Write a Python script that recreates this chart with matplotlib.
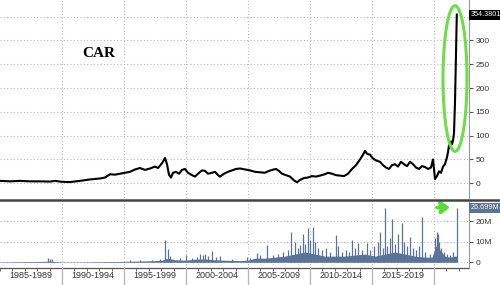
import matplotlib
matplotlib.use("Agg")
import matplotlib.pyplot as plt
from matplotlib.patches import Ellipse
from matplotlib.lines import Line2D

# ---- data (x in decimal years) ----
PX = 12.4  # pixels per year, only used to convert my readings
price_px = [0, 10, 20, 30, 40, 50, 55, 62, 70, 80, 90, 100, 105, 110, 115, 120, 125, 130, 135, 140,
            145, 150, 155, 158, 162, 165, 167, 169, 171, 173, 176, 179, 182, 185, 188, 192, 195, 198,
            202, 205, 208, 212, 215, 218, 220, 224, 228, 232, 236, 240, 245, 250, 255, 260, 265, 268,
            272, 276, 279, 282, 286, 290, 294, 297, 300, 304, 308, 312, 316, 320, 325, 328, 332, 336,
            340, 344, 348, 352, 356, 360, 363, 365, 367, 370, 373, 376, 380, 383, 386, 389, 392, 395,
            398, 401, 404, 407, 410, 413, 416, 419, 422, 425, 428, 431, 433, 434, 435, 437, 439, 441,
            443, 445, 447, 448, 449, 450, 451, 452, 453, 454, 455, 456.8]
price = [5, 4, 5, 4, 4, 3.5, 5, 3, 2.5, 5, 8, 10, 12, 19, 18, 20, 22, 24, 29, 32,
         28, 31, 35, 32, 42, 53, 40, 18, 12, 22, 24, 20, 28, 30, 22, 17, 14, 20,
         27, 26, 20, 22, 24, 17, 14, 20, 24, 27, 30, 31, 29, 27, 24, 23, 22, 25,
         28, 30, 26, 20, 17, 14, 6, 2, 7, 11, 12, 15, 14, 16, 19, 22, 20, 17,
         16, 15, 20, 30, 38, 50, 60, 68, 62, 60, 52, 48, 45, 38, 33, 30, 38, 40,
         35, 45, 40, 36, 45, 40, 33, 30, 36, 34, 30, 33, 50, 30, 9, 15, 25, 22,
         35, 40, 55, 65, 80, 75, 88, 82, 90, 105, 170, 354.38]
price_years = [1985 + p / PX for p in price_px]

vol_base_px = [0, 20, 40, 48, 55, 62, 80, 100, 120, 140, 155, 162, 168, 175, 185, 195, 205, 215, 225,
               240, 248, 255, 265, 275, 285, 295, 305, 315, 325, 335, 345, 355, 365, 375, 385, 395,
               405, 415, 425, 432, 436, 440, 445, 450, 455, 456.8]
vol_base = [0.2, 0.3, 0.4, 0.5, 0.4, 0.2, 0.2, 0.3, 0.4, 0.6, 0.8, 1.0, 2.0, 1.2, 1.0, 1.5, 1.6, 1.2, 1.0,
            0.8, 1.0, 2.0, 2.0, 2.5, 3.0, 4.0, 5.0, 4.0, 3.0, 3.0, 3.0, 3.5, 4.0, 3.0, 4.0, 5.0,
            4.0, 3.0, 2.5, 2.5, 8.0, 6.0, 3.0, 2.5, 3.0, 3.0]
vol_base_years = [1985 + p / PX for p in vol_base_px]

spike_px = [48, 50, 52, 130, 140, 152, 160, 165, 168, 170, 180, 186, 192, 197, 200, 203, 205, 208, 212,
            216, 220, 232, 247, 250, 257, 260, 267, 273, 278, 283, 288, 291, 295, 298, 300, 303, 305,
            308, 310, 313, 315, 318, 322, 326, 330, 336, 338, 342, 346, 349, 352, 355, 358, 362, 367,
            370, 374, 378, 380, 383, 385, 387, 390, 392, 395, 398, 402, 404, 407, 410, 413, 416, 419,
            422, 425, 430, 435, 436.5, 437.5, 439, 441, 444, 447, 450, 453, 456.8]
spike_vals = [2.2, 1.8, 1.4, 0.9, 1.2, 1.0, 1.5, 10.9, 6.3, 3.0, 2.0, 3.5, 2.0, 2.5, 3.9, 3.5, 4.0, 3.0, 5.5,
              2.5, 3.0, 1.6, 2.6, 2.2, 4.3, 3.5, 8.4, 3.5, 4.0, 5.0, 6.0, 14.9, 10.0, 7.0, 8.5, 13.8, 9.0,
              16.6, 11.0, 17.4, 10.0, 7.0, 6.0, 7.0, 5.0, 13.2, 8.0, 5.0, 6.0, 5.0, 10.7, 7.0, 9.5, 6.0, 9.3,
              6.0, 8.0, 10.0, 14.9, 7.0, 26.3, 8.0, 12.0, 21.0, 9.0, 14.0, 19.0, 10.0, 8.0, 12.5, 7.0, 6.0, 8.0,
              22.2, 5.0, 4.0, 12.0, 15.0, 14.0, 10.0, 7.0, 5.0, 4.0, 3.5, 5.0, 26.699]
spike_years = [1985 + p / PX for p in spike_px]

period_labels = ["1985-1989", "1990-1994", "1995-1999", "2000-2004", "2005-2009", "2010-2014", "2015-2019"]
period_starts = [1985, 1990, 1995, 2000, 2005, 2010, 2015]
price_ticks = [0, 50, 100, 150, 200, 250, 300, 350]
vol_ticks = [0, 10, 20]
vol_tick_labels = ["0", "10M", "20M"]
last_price_label = "354.3801"
last_vol_label = "26.699M"
ticker = "CAR"

# ---- figure ----
W, H = 500, 285
fig = plt.figure(figsize=(W / 100, H / 100), dpi=100)
fig.patch.set_facecolor("white")

def rect(x0, y0, x1, y1):
    return [x0 / W, 1 - y1 / H, (x1 - x0) / W, (y1 - y0) / H]

ax = fig.add_axes(rect(0, 0, 469, 198))
axv = fig.add_axes(rect(0, 201, 469, 268))

xmin, xmax = 1985, 1985 + 469 / PX
grid_kw = dict(color="#b8b8b8", linestyle=(0, (1, 2)), linewidth=0.8)
tick_color = "#333333"
fs = 6
lab_font = "Liberation Sans"

for a in (ax, axv):
    a.set_xlim(xmin, xmax)
    a.set_facecolor("white")
    for s in ("top", "left", "bottom"):
        a.spines[s].set_visible(False)
    a.spines["right"].set_color("#999999")
    a.spines["right"].set_linewidth(0.8)
    a.yaxis.tick_right()
    a.tick_params(axis="y", direction="out", length=3, width=0.8, color="#555555",
                  labelsize=fs, labelcolor=tick_color, pad=1.5)
    for yr in period_starts[1:] + [2020]:
        a.axvline(yr, zorder=0, **grid_kw)

# price panel
ax.set_ylim(-31, 385)
ax.set_yticks(price_ticks)
ax.set_yticklabels([str(t) if t != 350 else "" for t in price_ticks], family=lab_font)
for t in price_ticks:
    ax.axhline(t, zorder=0, **grid_kw)
ax.set_xticks([])
ax.plot(price_years, price, color="black", linewidth=1.5, zorder=3)
ax.text(1993.0, 273, ticker, fontsize=11, fontweight="bold", family="Liberation Serif",
        ha="center", va="center")
ell = Ellipse((1985 + 455 / PX, 220), width=24 / PX, height=306, fill=False,
              edgecolor="#6fdc4a", linewidth=2.2, zorder=4)
ax.add_patch(ell)
ax.text(1.003, 354.38, last_price_label, transform=ax.get_yaxis_transform(), fontsize=5.2,
        family=lab_font, color="white", va="center", ha="left", clip_on=False,
        bbox=dict(boxstyle="square,pad=0.2", facecolor="black", edgecolor="none"))

# volume panel
axv.set_ylim(-2.8, 29.9)
axv.set_yticks(vol_ticks)
axv.set_yticklabels(vol_tick_labels, family=lab_font)
for t in vol_ticks:
    axv.axhline(t, zorder=0, **grid_kw)
vcol = "#5b7399"
axv.fill_between(vol_base_years, 0, vol_base, color=vcol, linewidth=0, zorder=2)
axv.vlines(spike_years, 0, spike_vals, color=vcol, linewidth=0.9, zorder=2)
axv.set_xticks(list(range(1985, 2023)), minor=True)
axv.set_xticks([])
axv.tick_params(axis="x", which="minor", direction="out", length=2.5, color="#555555")
axv.axhline(-2.8, color="#555555", linewidth=0.9, clip_on=False)
axv.annotate("", xy=(1985 + 453 / PX, 26.7), xytext=(1985 + 434 / PX, 26.7),
             arrowprops=dict(arrowstyle="-|>,head_width=0.35,head_length=0.5", color="#55dd33",
                             linewidth=2.5, linestyle=(0, (2.0, 1.0))), zorder=5)
axv.text(1.003, 26.699, last_vol_label, transform=axv.get_yaxis_transform(), fontsize=5.2,
         family=lab_font, color="white", va="center", ha="left", clip_on=False,
         bbox=dict(boxstyle="square,pad=0.2", facecolor="#5a7399", edgecolor="none"))

# period labels and separators below the volume panel
for lab, s in zip(period_labels, period_starts):
    axv.text(s + 2.5, -0.11, lab, transform=axv.get_xaxis_transform(), fontsize=6.5,
             family=lab_font, color=tick_color, ha="center", va="center", clip_on=False)
for yr in period_starts[1:] + [2020]:
    axv.add_line(Line2D([yr, yr], [0, -0.26], transform=axv.get_xaxis_transform(),
                        color="#b5b5b5", linewidth=0.9, clip_on=False))

# thick separator line between panels
fig.add_artist(Line2D([0, 1], [1 - 199.5 / H, 1 - 199.5 / H], transform=fig.transFigure,
                      color="#444444", linewidth=1.8))

fig.savefig("out.png", dpi=100, facecolor="white")
